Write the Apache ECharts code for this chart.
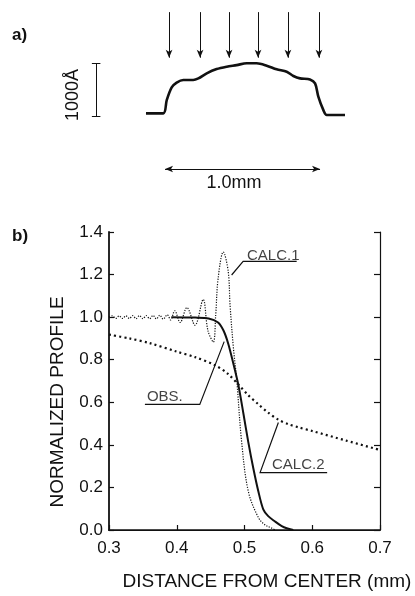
<!DOCTYPE html>
<html>
<head>
<meta charset="utf-8">
<script src="https://cdn.jsdelivr.net/npm/echarts@6/dist/echarts.min.js"></script>
<style>
  html, body { margin: 0; padding: 0; background: #fff; }
  #chart-container { width: 415px; height: 596px; }
</style>
</head>
<body>
<div id="chart-container"></div>
<script>
var dom = document.getElementById("chart-container");
var myChart = echarts.init(dom, null, { renderer: "canvas" });

// panel a) : surface profile of the film (x in mm, height in angstrom)
const profileA = [
  [-0.626, 50], [-0.514, 50], [-0.492, 300], [-0.460, 540], [-0.428, 630],
  [-0.385, 680], [-0.321, 680], [-0.288, 710], [-0.234, 805], [-0.170, 885],
  [-0.105, 930], [-0.041, 960], [0.024, 995], [0.088, 995], [0.153, 950],
  [0.217, 880], [0.282, 835], [0.325, 755], [0.368, 710], [0.432, 690],
  [0.465, 615], [0.486, 365], [0.518, 115], [0.540, 20], [0.658, 20]
];
const beamArrowsX = [-0.477, -0.277, -0.090, 0.097, 0.290, 0.490];

// panel b) : normalized profiles vs distance from center (mm)
const xTicks = [0.3, 0.4, 0.5, 0.6, 0.7];
const yTicks = [0.0, 0.2, 0.4, 0.6, 0.8, 1.0, 1.2, 1.4];

const obs = [
  [0.392, 1.000], [0.427, 0.998], [0.447, 0.994], [0.461, 0.975], [0.469, 0.937],
  [0.476, 0.875], [0.4835, 0.782], [0.491, 0.680], [0.4985, 0.545], [0.5056, 0.413],
  [0.513, 0.290], [0.5204, 0.182], [0.5277, 0.097], [0.535, 0.065], [0.545, 0.040],
  [0.555, 0.018], [0.5623, 0.008], [0.572, 0.000]
];

const calc1 = [
  [0.300, 1.000], [0.305, 1.006], [0.310, 0.994], [0.315, 1.006], [0.320, 0.994],
  [0.325, 1.006], [0.330, 0.994], [0.335, 1.007], [0.340, 0.993], [0.345, 1.007],
  [0.350, 0.993], [0.355, 1.007], [0.360, 0.993], [0.365, 1.008], [0.370, 0.992],
  [0.375, 1.009], [0.380, 0.991], [0.386, 1.011], [0.391, 0.987], [0.397, 1.030],
  [0.405, 0.975], [0.415, 1.045], [0.427, 0.962], [0.439, 1.083], [0.446, 0.937],
  [0.454, 0.883], [0.4575, 1.010], [0.461, 1.180], [0.4687, 1.306], [0.476, 1.214],
  [0.4786, 1.060], [0.4835, 0.860], [0.4885, 0.706], [0.4958, 0.413], [0.5056, 0.182],
  [0.5204, 0.059], [0.530, 0.025], [0.540, 0.009], [0.5455, 0.000]
];

const calc2 = [
  [0.300, 0.918], [0.330, 0.900], [0.360, 0.878], [0.400, 0.838], [0.427, 0.812],
  [0.456, 0.775], [0.475, 0.735], [0.491, 0.683], [0.505, 0.635], [0.520, 0.592],
  [0.535, 0.551], [0.550, 0.518], [0.565, 0.497], [0.580, 0.482], [0.600, 0.465],
  [0.650, 0.420], [0.700, 0.376]
];

// labels with their leader lines (underline + pointer to the curve)
const curveLabels = ["CALC.1", "OBS.", "CALC.2"];
const labelAnchors = [[0.5037, 1.289], [0.356, 0.624], [0.5406, 0.305]];
const leaders = [
  [[0.577, 1.262], [0.498, 1.262], [0.481, 1.198]],
  [[0.353, 0.590], [0.434, 0.590], [0.470, 0.885]],
  [[0.622, 0.270], [0.523, 0.270], [0.550, 0.505]]
];

const ink = "#111";
const font = "Liberation Sans";

var option = {
  backgroundColor: "#fff",
  animation: false,
  textStyle: { fontFamily: font, color: ink },
  grid: [
    { left: 109, right: 35, top: 232, bottom: 60 },
    { left: 57, width: 341, top: 4.7, height: 185.5 }
  ],
  xAxis: [
    {
      type: "value", gridIndex: 0, min: 0.3, max: 0.7, interval: 0.1,
      name: "DISTANCE FROM CENTER (mm)", nameLocation: "middle", nameGap: 42,
      nameTextStyle: { fontSize: 19, color: ink, padding: [0, 0, 0, 45] },
      axisLine: { lineStyle: { color: ink, width: 1.5 } },
      axisTick: { inside: true, length: 5, lineStyle: { color: ink, width: 1.2 } },
      axisLabel: { fontSize: 17, color: ink, margin: 10, formatter: v => v.toFixed(1) },
      splitLine: { show: false }
    },
    {
      type: "value", gridIndex: 0, position: "top", min: 0.3, max: 0.7, interval: 0.1,
      axisLine: { lineStyle: { color: ink, width: 1.2 } },
      axisTick: { show: false }, axisLabel: { show: false }, splitLine: { show: false }
    },
    { type: "value", gridIndex: 1, min: -1.2, max: 1.0, show: false }
  ],
  yAxis: [
    {
      type: "value", gridIndex: 0, min: 0, max: 1.4, interval: 0.2,
      name: "NORMALIZED PROFILE", nameLocation: "middle", nameGap: 42,
      nameTextStyle: { fontSize: 19, color: ink, padding: [0, 42, 0, 0] },
      axisLine: { show: true, lineStyle: { color: ink, width: 1.8 } },
      axisTick: { show: true, inside: true, length: 5, lineStyle: { color: ink, width: 1.2 } },
      axisLabel: { fontSize: 17, color: ink, margin: 6, formatter: v => v.toFixed(1) },
      splitLine: { show: false }
    },
    {
      type: "value", gridIndex: 0, position: "right", min: 0, max: 1.4, interval: 0.2,
      axisLine: { show: true, lineStyle: { color: ink, width: 1.2 } },
      axisTick: { show: true, inside: true, length: 6, lineStyle: { color: ink, width: 1.2 } },
      axisLabel: { show: false }, splitLine: { show: false }
    },
    { type: "value", gridIndex: 1, min: -1400, max: 2100, show: false }
  ],
  series: [
    {
      name: "CALC.2", type: "line", data: calc2, symbol: "none", smooth: 0.3,
      lineStyle: { color: ink, width: 2.2, type: [2, 3.2] }
    },
    {
      name: "CALC.1", type: "line", data: calc1, symbol: "none", smooth: 0.35,
      lineStyle: { color: ink, width: 1.2, type: [1.2, 1.4] }
    },
    {
      name: "OBS.", type: "line", data: obs, symbol: "none", smooth: 0.3,
      lineStyle: { color: ink, width: 2 }
    },
    {
      type: "lines", coordinateSystem: "cartesian2d", polyline: true, silent: true,
      symbol: ["none", "arrow"], symbolSize: 6,
      lineStyle: { color: ink, width: 1.2, opacity: 1 },
      data: leaders.map(c => ({ coords: c }))
    },
    {
      type: "scatter", symbolSize: 0, silent: true,
      data: labelAnchors.map((p, i) => ({ value: p, name: curveLabels[i] })),
      label: {
        show: true, position: "right", distance: 0, formatter: "{b}",
        fontSize: 15, color: ink, fontFamily: font
      }
    },
    {
      type: "line", xAxisIndex: 2, yAxisIndex: 2, data: profileA, symbol: "none",
      smooth: 0.3, lineStyle: { color: ink, width: 2.6 }, clip: false,
      markLine: {
        silent: true, symbol: ["none", "arrow"], symbolSize: [5, 8],
        label: { show: false },
        lineStyle: { color: ink, width: 1, type: "solid" },
        data: beamArrowsX.map(x => [{ coord: [x, 1960] }, { coord: [x, 1100] }]).concat([
          [{ coord: [-0.948, 0], symbol: "none" }, { coord: [-0.948, 1000], symbol: "none" }],
          [{ coord: [-0.975, 0], symbol: "none" }, { coord: [-0.92, 0], symbol: "none" }],
          [{ coord: [-0.975, 1000], symbol: "none" }, { coord: [-0.92, 1000], symbol: "none" }],
          [{ coord: [-0.503, -1000], symbol: "arrow" }, { coord: [0.497, -1000], symbol: "arrow" }]
        ])
      }
    }
  ],
  graphic: [
    { type: "text", left: 12, top: 27, style: { text: "a)", font: "bold 17px " + font, fill: ink } },
    { type: "text", left: 12, top: 228, style: { text: "b)", font: "bold 17px " + font, fill: ink } },
    {
      type: "text", x: 73, y: 95, rotation: Math.PI / 2,
      style: { text: "1000Å", font: "18px " + font, fill: ink, align: "center", verticalAlign: "middle" }
    },
    {
      type: "text", x: 234, y: 183,
      style: { text: "1.0mm", font: "18px " + font, fill: ink, align: "center", verticalAlign: "middle" }
    }
  ]
};

if (option && typeof option === "object") {
  myChart.setOption(option);
}

window.addEventListener("resize", myChart.resize);
</script>
</body>
</html>
